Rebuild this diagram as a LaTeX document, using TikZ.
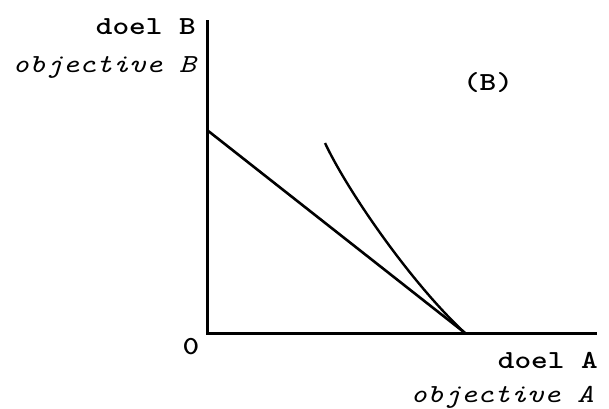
\documentclass[tikz,border=0pt]{standalone}
\usepackage{graphicx}
\usepackage{tikz}

\newcommand{\tw}[1]{\scalebox{1.22}[1]{\fontsize{26}{30}\selectfont\ttfamily\bfseries #1}}
\newcommand{\twit}[1]{\scalebox{1.22}[1]{\fontsize{26}{30}\selectfont\ttfamily\itshape #1}}

\begin{document}
\begin{tikzpicture}[x=1pt, y=-1pt]
    \useasboundingbox (0,0) rectangle (609,408);

    % Points
    \coordinate (O) at (207,333);
    \coordinate (ytop) at (207,20);
    \coordinate (xend) at (597,333);
    \coordinate (b0) at (207,130);
    \coordinate (c0) at (325,143);
    \coordinate (t) at (465,333);

    % Draw axes
    \draw[line width=3pt] (ytop) -- (O) -- (xend);

    % Draw line and curve
    \draw[line width=2.6pt] (b0) -- (t);
    \draw[line width=2.4pt] (c0) .. controls (348,192) and (412,284) .. (t);

    % Labels
    \node[anchor=east, inner sep=0pt] (yname) at (196,27) {\tw{doel B}};
    \node[anchor=east, inner sep=0pt] (yobj) at (196,67) {\twit{objective B}};
    \node[inner sep=0pt] (case) at (488,83) {\tw{(B)}};
    \node[inner sep=0pt] (zero) at (191,347) {\tw{0}};
    \node[anchor=east, inner sep=0pt] (xname) at (598,360) {\tw{doel A}};
    \node[anchor=east, inner sep=0pt] (xobj) at (594,397) {\twit{objective A}};
\end{tikzpicture}
\end{document}
